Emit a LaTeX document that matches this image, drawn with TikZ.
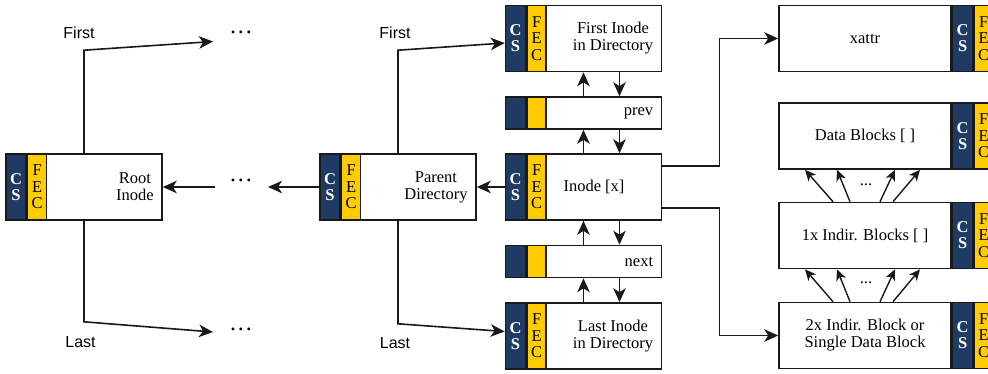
\documentclass[tikz,border=0pt]{standalone}
\usepackage{fontspec}
\setmainfont{Liberation Serif}
\newfontfamily\arialfont{Liberation Sans}
\usetikzlibrary{arrows.meta,positioning,calc}
\definecolor{csblue}{HTML}{1F3B63}
\definecolor{fecyellow}{HTML}{FFCC00}
\tikzset{
  blk/.style={draw=black!90,fill=white,line width=1.6pt,minimum width=156pt,minimum height=66pt,inner sep=0},
  rblk/.style={blk,minimum width=172pt},
  csstrip/.style={draw=black!90,fill=csblue,line width=1.6pt,minimum width=20pt,minimum height=66pt,inner sep=0,
    text=white,align=center,font=\fontsize{16.5}{16}\selectfont\bfseries},
  fecstrip/.style={draw=black!90,fill=fecyellow,line width=1.6pt,minimum width=19pt,minimum height=66pt,inner sep=0,
    align=center,font=\fontsize{16.5}{16.5}\selectfont},
  lbl/.style={inner sep=0,align=center},
  sanslbl/.style={inner sep=0,font=\arialfont\fontsize{16}{17}\selectfont},
  dots/.style={inner sep=0,font=\fontsize{24}{24}\selectfont},
  arr/.style={draw=black!90,line width=1.6pt,-{Stealth[length=14pt,width=12.5pt,inset=4pt]}},
  arrs/.style={draw=black!90,line width=1.4pt,-{Stealth[length=11pt,width=10pt,inset=3pt]}}
}
\begin{document}
\begin{tikzpicture}[x=1pt,y=-1pt,font=\fontsize{16.5}{17}\selectfont]
      \useasboundingbox (0,0) rectangle (988,373);
      \clip (0,0) rectangle (988,373);

      \node[blk] (root) at (84,187) {};
      \node[blk] (par) at (398,187) {};
      \node[blk] (fst) at (583.5,38.5) {};
      \node[blk,minimum height=32pt] (prv) at (583.5,113) {};
      \node[blk] (inx) at (583.5,187) {};
      \node[blk,minimum height=32pt] (nxt) at (583.5,261.5) {};
      \node[blk] (lst) at (583.5,336) {};

      \foreach \b in {root,par,fst,inx,lst} {
        \node[csstrip,anchor=north west] (\b-cs) at (\b.north west) {C\\S};
        \node[fecstrip,anchor=north west] (\b-fec) at (\b-cs.north east) {F\\E\\C};
      }
      \foreach \b in {prv,nxt} {
        \node[csstrip,anchor=north west,minimum height=32pt] (\b-cs) at (\b.north west) {};
        \node[fecstrip,anchor=north west,minimum height=32pt] (\b-fec) at (\b-cs.north east) {};
      }

      \node[lbl,anchor=east] (rootlbl) at ($(root.east)+(-9,0)$) {Root\\Inode};
      \node[lbl,anchor=east] (parlbl) at ($(par.east)+(-9,0)$) {Parent\\Directory};
      \node[lbl,anchor=east] (fstlbl) at ($(fst.east)+(-9,0)$) {First Inode\\in Directory};
      \node[lbl,anchor=east] (prvlbl) at ($(prv.east)+(-9,0)$) {prev};
      \node[lbl] (inxlbl) at ($(inx.center)+(10.5,0)$) {Inode [x]};
      \node[lbl,anchor=east] (nxtlbl) at ($(nxt.east)+(-9,0)$) {next};
      \node[lbl,anchor=east] (lstlbl) at ($(lst.east)+(-9,0)$) {Last Inode\\in Directory};

      \node[rblk] (xat) at (865,38.5) {xattr};
      \node[rblk] (dat) at (865,136) {Data Blocks [ ]};
      \node[rblk] (ind1) at (865,235.5) {1x Indir. Blocks [ ]};
      \node[rblk,align=center] (ind2) at (865,335.5) {2x Indir. Block or\\Single Data Block};
      \foreach \b in {xat,dat,ind1,ind2} {
        \node[csstrip,anchor=north west] (\b-cs) at (\b.north east) {C\\S};
        \node[fecstrip,anchor=north west] (\b-fec) at (\b-cs.north east) {F\\E\\C};
      }

      \node[dots] (dtop) at (241,32) {.\hspace{2pt}.\hspace{2pt}.};
      \node[dots] (dmid) at (241,180) {.\hspace{2pt}.\hspace{2pt}.};
      \node[dots] (dbot) at (241,329) {.\hspace{2pt}.\hspace{2pt}.};
      \coordinate (rfst) at (213,41.5);
      \coordinate (rlst) at (213,332);
      \coordinate (pout) at (215,187);
      \coordinate (pin) at (268,187);

      \node[sanslbl] (rfstlbl) at (79,33) {First};
      \node[sanslbl] (rlstlbl) at (80.5,342) {Last};
      \node[sanslbl] (pfstlbl) at (395,33) {First};
      \node[sanslbl] (plstlbl) at (395,343) {Last};

      \draw[arr] (root.north) -- ++(0,-103) -- (rfst);
      \draw[arr] (root.south) -- ++(0,101) -- (rlst);
      \draw[arr] (pout) -- (root.east);
      \draw[arr] (par.west) -- (pin);
      \draw[arr] (par.north) -- ++(0,-103) -- ($(fst.west)+(0,4.5)$);
      \draw[arr] (par.south) -- ++(0,103) -- ($(lst.west)+(0,-4.5)$);
      \draw[arr] (inx.west) -- (par.east);

      \foreach \a/\b in {fst/prv,prv/inx,inx/nxt,nxt/lst} {
        \draw[arr] (\b.north) -- (\a.south);
        \draw[arr] ($(\a.south)+(36,0)$) -- ($(\b.north)+(36,0)$);
      }

      \draw[arr] ($(inx.east)+(0,-21)$) -- ++(57,0) |- (xat.west);
      \draw[arr] ($(inx.east)+(0,21)$) -- ++(57,0) |- (ind2.west);

      \foreach \s/\e in {-32/-60,-15/-28,15/30,28/55} {
        \draw[arrs] ($(ind1.north)+(\s,0)$) -- ($(dat.south)+(\e,0)$);
        \draw[arrs] ($(ind2.north)+(\s,0)$) -- ($(ind1.south)+(\e,0)$);
      }
      \node (ddat) at (866,185) {...};
      \node (dind) at (866,283) {...};
    \end{tikzpicture}
\end{document}
